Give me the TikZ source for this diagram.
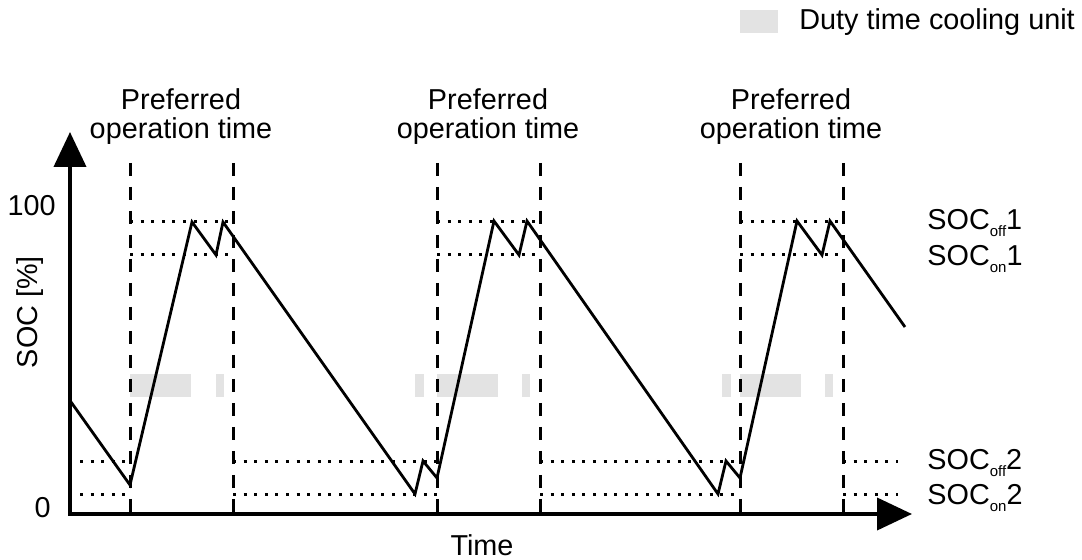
\documentclass[tikz,border=0pt]{standalone}
\usepackage{fontspec}
\setmainfont{Liberation Sans}
\usetikzlibrary{arrows.meta,calc}
\newcommand{\lowsub}[1]{\raisebox{-0.45ex}{\fontsize{7.5}{8}\selectfont #1}}

\begin{document}
\begin{tikzpicture}[x=0.5pt,y=-0.5pt,
		every node/.style={font=\fontsize{14.4}{14.5}\selectfont, inner sep=0pt},
		optime/.style={line width=1.5pt, dash pattern=on 6.5pt off 5.5pt},
		level/.style={line width=1.5pt, dash pattern=on 1.5pt off 3.8pt},
		duty/.style={fill=black!11, draw=none}]
		\useasboundingbox (0,0) rectangle (1082,560);
		% legend
		\fill[duty] (740,10) rectangle (778,33);
		\node[anchor=west] (legend) at (799,22) {Duty time cooling unit};
		% duty time of the cooling unit
		\foreach \a/\b in {130/191,216/224,415/424,437/498,522/530,722/731,740/801,825/833}
			\fill[duty] (\a,374) rectangle (\b,397);
		% preferred operation time
		\foreach \o [count=\i] in {0,307,610}{
			\draw[level] (130+\o,222) -- (233+\o,222);
			\draw[level] (130+\o,255) -- (230+\o,255);
			\draw[optime] (130+\o,163) -- (130+\o,513);
			\draw[optime] (233+\o,163) -- (233+\o,513);
			\node[align=center] (pref\i) at (181+\o,117) {Preferred\\operation time};
		}
		\foreach \a/\b in {80/130,233/437,540/740,843/898}{
			\draw[level] (\a,462) -- (\b,462);
			\draw[level] (\a,495) -- (\b,495);
		}
		% state of charge
		\draw[line width=1.4pt] (71,402) -- (130,485) -- (192,222) -- (216,255) -- (223,222)
			-- (415,494) -- (423,461) -- (437,478) -- (494,221) -- (519,255) -- (527,221)
			-- (718,494) -- (726,461) -- (740,478) -- (797,221) -- (822,255) -- (830,221)
			-- (905,327);
		% axes
		\draw[line width=2pt, {Triangle[length=17.5pt,width=16pt]}-{Triangle[length=17.5pt,width=16pt]}]
			(70,132) -- (70,514) -- (912,514);
		\node[anchor=base east] (top) at (56,216) {100};
		\node[anchor=base east] (bot) at (51,518) {0};
		\node[rotate=90] (ylab) at (30,312) {SOC [\%]};
		\node (xlab) at (482,545) {Time};
		\node[anchor=base west] (off1) at (927,230) {SOC\lowsub{off}1};
		\node[anchor=base west] (on1) at (927,266) {SOC\lowsub{on}1};
		\node[anchor=base west] (off2) at (927,470) {SOC\lowsub{off}2};
		\node[anchor=base west] (on2) at (927,505) {SOC\lowsub{on}2};
	\end{tikzpicture}
\end{document}
